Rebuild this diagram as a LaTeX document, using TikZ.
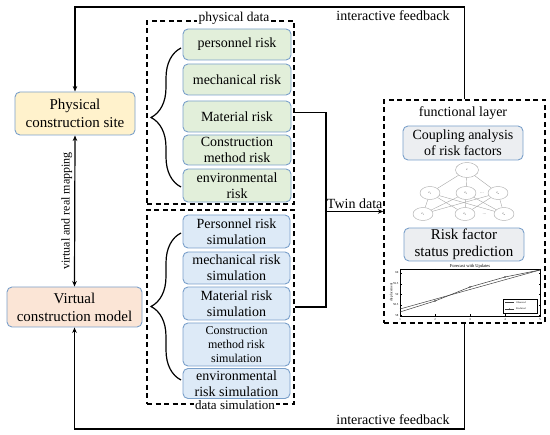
\documentclass[tikz,border=0pt]{standalone}
\usepackage{fontspec}
\setmainfont{Liberation Serif}
\usetikzlibrary{arrows.meta,shapes.geometric,decorations.pathreplacing}
\definecolor{edgeblue}{RGB}{122,160,202}
\definecolor{siteyellow}{RGB}{255,242,204}
\definecolor{virtpeach}{RGB}{251,229,214}
\definecolor{riskgreen}{RGB}{226,239,218}
\definecolor{simblue}{RGB}{221,234,247}
\definecolor{funcgray}{RGB}{236,238,241}
\newcommand{\sizept}[2]{\fontsize{#1}{#2}\selectfont}

\begin{document}
\begin{tikzpicture}[%
      x=1pt, y=-1pt,
      >={Stealth[length=5.5pt,width=4.5pt]},
      box/.style={draw=edgeblue, line width=0.9pt, rounded corners=5pt, align=center, inner sep=0pt},
      sitebox/.style={box, font=\sizept{15}{18}},
      riskbox/.style={box, fill=riskgreen, minimum width=108pt, font=\sizept{14}{16}},
      simbox/.style={box, fill=simblue, minimum width=107pt, font=\sizept{14}{16}},
      funcbox/.style={box, fill=funcgray, minimum width=120pt, font=\sizept{15}{17}},
      group/.style={draw, line width=1.3pt, dash pattern=on 5pt off 3.5pt, inner sep=0pt},
      grouplabel/.style={fill=white, inner sep=1.5pt, font=\sizept{13.5}{15}},
      link/.style={line width=1.2pt},
      factor/.style={ellipse, draw=gray!70, line width=0.4pt, minimum width=20pt, minimum height=13pt, inner sep=0pt, font=\sizept{3}{3}},
      tiny/.style={inner sep=0pt, font=\sizept{3}{3}},
      ]
      \useasboundingbox (0,0) rectangle (550,435);

      \node[sitebox, fill=siteyellow, minimum width=120pt, minimum height=43pt] (site) at (75,113.5) {Physical\\construction site};
      \node[sitebox, fill=virtpeach, minimum width=135pt, minimum height=40pt] (virt) at (74.5,307) {Virtual\\construction model};

      \node[group, minimum width=147pt, minimum height=183pt] (physdata) at (220.5,112.5) {};
      \node[grouplabel] (physlabel) at (234,18) {physical data};
      \node[group, minimum width=147pt, minimum height=194pt] (simdata) at (220.5,307) {};
      \node[grouplabel, font=\sizept{13}{15}] (simlabel) at (235,405) {data simulation};

      \node[riskbox, minimum height=31pt] (r1) at (237,44.5) {personnel risk};
      \node[riskbox, minimum height=31pt] (r2) at (237,79.5) {mechanical risk};
      \node[riskbox, minimum height=31pt] (r3) at (237,116.5) {Material risk};
      \node[riskbox, minimum height=30pt] (r4) at (237,150) {Construction\\method risk};
      \node[riskbox, minimum height=33pt] (r5) at (237,185.5) {environmental\\risk};

      \node[simbox, minimum height=33pt] (s1) at (236.5,231.5) {Personnel risk\\simulation};
      \node[simbox, minimum height=32pt] (s2) at (236.5,268) {mechanical risk\\simulation};
      \node[simbox, minimum height=33pt] (s3) at (236.5,303.5) {Material risk\\simulation};
      \node[simbox, minimum height=43pt, font=\sizept{12}{14}] (s4) at (236.5,344.5) {Construction\\method risk\\simulation};
      \node[simbox, minimum height=30pt] (s5) at (236.5,383.5) {environmental\\risk simulation};

      \draw[link, decorate, decoration={brace, amplitude=30pt}] (181,187) -- (181,48);
      \draw[link, decorate, decoration={brace, amplitude=30pt}] (181,380) -- (181,233);

      \node[group, minimum width=161pt, minimum height=223pt] (func) at (464.5,211.5) {};
      \node[font=\sizept{14}{16}] (funclabel) at (463,113) {functional layer};
      \node[funcbox, minimum height=34pt, font=\sizept{14}{16}] (coupling) at (463,143) {Coupling analysis\\of risk factors};
      \node[funcbox, minimum height=33pt] (predict) at (464,244.5) {Risk factor\\status prediction};

      \node[factor, minimum width=23pt, minimum height=15pt] (c0) at (467,170) {c};
      \node[factor] (c1) at (430,193) {c\textsubscript{1}};
      \node[factor] (c2) at (466,193) {c\textsubscript{2}};
      \node[factor] (c3) at (498,193) {c\textsubscript{n}};
      \node[factor] (d1) at (423,214) {c\textsubscript{1}};
      \node[factor] (d2) at (465,214) {c\textsubscript{2}};
      \node[factor] (d3) at (504,214) {c\textsubscript{n}};
      \node[tiny, font=\sizept{5}{5}, gray] (dots1) at (482,193) {...};
      \node[tiny, font=\sizept{5}{5}, gray] (dots2) at (484.5,214) {...};
      \foreach \i in {1,2,3}
        \draw[gray!70, line width=0.4pt] (c0) -- (c\i);
      \foreach \i in {1,2,3}
        \foreach \j in {1,2,3}
          \draw[gray!70, line width=0.4pt] (c\i) -- (d\j);

      % forecast chart
      \node[draw, line width=0.4pt, minimum width=140pt, minimum height=47pt, inner sep=0pt] (plot) at (470,292.5) {};
      \node[inner sep=0pt, anchor=south, font=\sizept{4.5}{5}] (plottitle) at (470,268.5) {Forecast with Updates};
      \node[tiny, rotate=90, font=\sizept{3.5}{4}] (ylabel) at (391.5,292.5) {displacement};
      \foreach \x/\t in {400/1,435/2,470/3,505/4,540/5} {
        \node[tiny] (xt\t) at (\x,319.5) {\t};
        \draw[line width=0.3pt] (\x,316) -- (\x,314.5) (\x,269) -- (\x,270.5);
      }
      \foreach \y/\t/\n in {273/60/a,284/59.5/b,294.5/59/c,305/58.5/d,315.5/58/e} {
        \node[tiny, anchor=east] (yt\n) at (398.5,\y) {\t};
        \draw[line width=0.3pt] (400,\y) -- (401.5,\y) (540,\y) -- (538.5,\y);
      }
      \draw[darkgray, line width=0.5pt] (400,309) -- (540,270);
      \draw[darkgray, line width=0.5pt] (400,312) -- (435,301) -- (470,287) -- (505,277) -- (540,270);
      \foreach \x/\y in {435/301,470/287,505/277}
        \fill[darkgray] (\x,\y) circle (0.8pt);
      \node[draw, line width=0.3pt, fill=white, minimum width=34pt, minimum height=14pt, inner sep=0pt] (legend) at (520,306) {};
      \draw[darkgray, line width=0.4pt] (505,302.5) -- (514,302.5);
      \node[tiny, anchor=west, font=\sizept{2.5}{3}] (obs) at (516,302.5) {Observed};
      \draw[darkgray, line width=0.4pt] (505,309) -- (514,309);
      \fill[darkgray] (509.5,309) circle (0.6pt);
      \node[tiny, anchor=west, font=\sizept{2.5}{3}] (pred) at (516,309) {Predicted};

      % connectors
      \coordinate (twin) at (326,211.5);
      \coordinate (topy) at (0,7);
      \coordinate (boty) at (0,429);
      \draw[link] (physdata.east) -| (twin) |- (simdata.east);
      \draw[link, ->] (twin) -- node[above, inner sep=2pt, font=\sizept{14}{16}] (twinlabel) {Twin data} (func.west);
      \draw[link, <->] (site.south) -- node[rotate=90, anchor=south, inner sep=2pt, font=\sizept{12}{14}] (maplabel) {virtual and real mapping} (virt.north);
      \draw[link, ->] (func.north) |- (topy -| site.north) -- (site.north);
      \draw[link, ->] (func.south) |- (boty -| virt.south) -- (virt.south);
      \node[font=\sizept{14}{16}] (fbtop) at (393,16) {interactive feedback};
      \node[font=\sizept{14}{16}] (fbbot) at (393,420) {interactive feedback};
\end{tikzpicture}
\end{document}
